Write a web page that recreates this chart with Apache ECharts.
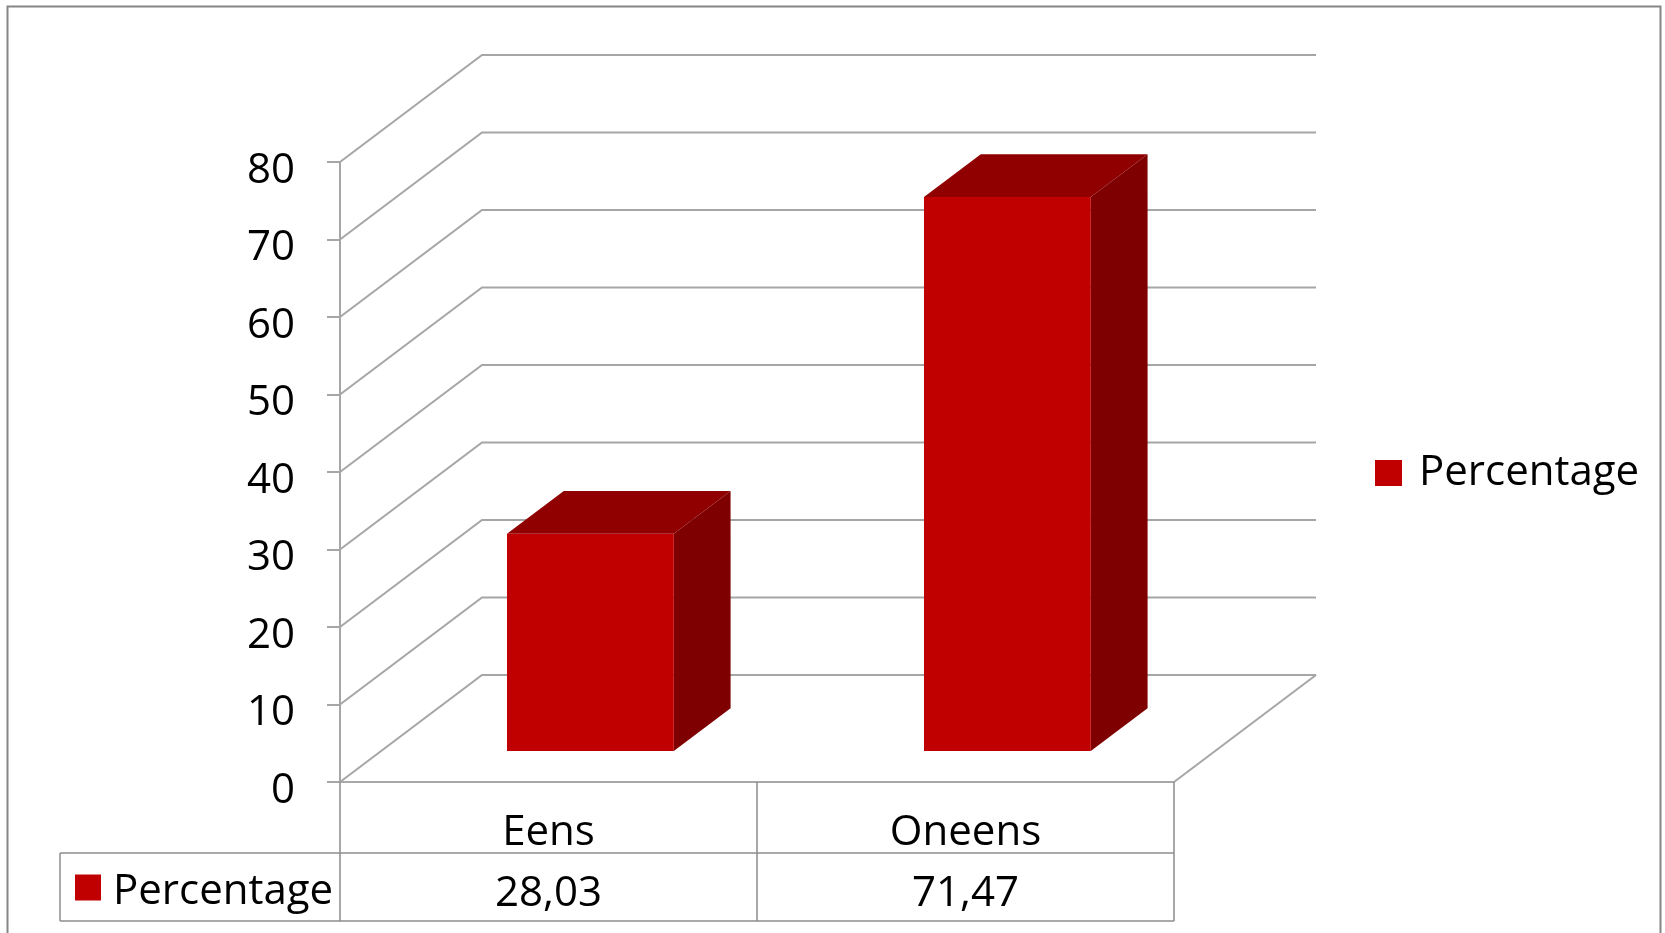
<!DOCTYPE html>
<html><head><meta charset="utf-8">
<script src="https://cdn.jsdelivr.net/npm/echarts@6/dist/echarts.min.js"></script>
<style>html,body{margin:0;padding:0;background:#fff;} #c{width:1665px;height:933px;}</style>
</head><body><div id="c"></div>
<script>
const categories = ['Eens', 'Oneens'];
const seriesName = 'Percentage';
const percentages = [28.03, 71.47];
const yTicks = [0, 10, 20, 30, 40, 50, 60, 70, 80];

const FONT = '"Open Sans"';
const FS = 42;
const DX = 142, DY = -107;
const RED = '#C00000', TOPC = '#900000', SIDE = '#7F0000';
const GRID_COLOR = '#A6A6A6';
const TABLE_COLOR = '#8C8C8C';

function fmt(v) { return v.toFixed(2).replace('.', ','); }

const chart = echarts.init(document.getElementById('c'), null, { renderer: 'canvas' });
const option = {
  backgroundColor: '#fff',
  animation: false,
  graphic: [{
    type: 'rect', silent: true, z: 0,
    shape: { x: 7.5, y: 6.5, width: 1653, height: 960 },
    style: { fill: null, stroke: '#868686', lineWidth: 2 }
  }],
  grid: { left: 340, right: 491, top: 162, bottom: 151, containLabel: false },
  xAxis: {
    type: 'category', data: categories,
    axisLine: { show: true, lineStyle: { color: TABLE_COLOR, width: 1.5 } },
    axisTick: { show: true, length: 139, lineStyle: { color: TABLE_COLOR, width: 1.5 } },
    axisLabel: { fontFamily: FONT, fontSize: FS, color: '#000', margin: 51, verticalAlign: 'middle' },
    splitLine: { show: false }
  },
  yAxis: {
    type: 'value', min: 0, max: 80, interval: 10,
    axisLine: { show: true, lineStyle: { color: GRID_COLOR, width: 2 } },
    axisTick: { show: true, length: 13, lineStyle: { color: GRID_COLOR, width: 2 } },
    axisLabel: { fontFamily: FONT, fontSize: FS, color: '#000', margin: 45, verticalAlign: 'top', lineHeight: 18 },
    splitLine: { show: false }
  },
  legend: {
    data: [seriesName], left: 1375, top: 452, padding: 0, icon: 'rect', itemWidth: 27, itemHeight: 26,
    selectedMode: false,
    textStyle: { fontFamily: FONT, fontSize: FS, color: '#000', padding: [15, 0, 0, 12] }
  },
  series: [
    {
      type: 'custom', name: 'walls', z: 1, silent: true,
      data: yTicks.map(v => [0, v]),
      renderItem(params, api) {
        const v = api.value(1);
        const cs = params.coordSys;
        const y = api.coord([0, v])[1];
        const x0 = cs.x, x1 = cs.x + cs.width;
        const children = [{
          type: 'polyline',
          shape: { points: [[x0, y], [x0 + DX, y + DY], [x1 + DX, y + DY]] },
          style: { stroke: GRID_COLOR, lineWidth: 2, fill: null }
        }];
        if (v === 0) {
          children.push({
            type: 'line', shape: { x1: x1, y1: y, x2: x1 + DX, y2: y + DY },
            style: { stroke: GRID_COLOR, lineWidth: 2 }
          });
        }
        return { type: 'group', children };
      }
    },
    {
      type: 'custom', name: seriesName, z: 3,
      itemStyle: { color: RED },
      data: percentages.map((v, i) => [i, v]),
      renderItem(params, api) {
        const i = api.value(0), v = api.value(1);
        const top = api.coord([i, v]), base = api.coord([i, 0]);
        const bw = api.size([1, 0])[0] * 0.4;
        const fx = 0.295 * DX, fy = 0.29 * DY;
        const ddx = 0.4 * DX, ddy = 0.4 * DY;
        const xl = base[0] - bw / 2 + fx, xr = xl + bw;
        const yt = top[1] + fy, yb = base[1] + fy;
        return {
          type: 'group', children: [
            { type: 'polygon', shape: { points: [[xl, yt], [xr, yt], [xr + ddx, yt + ddy], [xl + ddx, yt + ddy]] }, style: { fill: TOPC } },
            { type: 'polygon', shape: { points: [[xr, yt], [xr + ddx, yt + ddy], [xr + ddx, yb + ddy], [xr, yb]] }, style: { fill: SIDE } },
            { type: 'rect', shape: { x: xl, y: yt, width: bw, height: yb - yt }, style: { fill: RED } }
          ]
        };
      }
    },
    {
      type: 'custom', name: 'table', z: 2, silent: true,
      data: percentages.map((v, i) => [i, v]),
      renderItem(params, api) {
        const i = api.value(0), v = api.value(1);
        const cs = params.coordSys;
        const base = api.coord([i, 0]);
        const y0 = cs.y + cs.height;
        const r1 = y0 + 71, r2 = r1 + 68;
        const mid = (r1 + r2) / 2;
        const children = [{
          type: 'text',
          style: { text: fmt(v), x: base[0], y: mid + 7, align: 'center', verticalAlign: 'middle', fontSize: FS, fontFamily: FONT, fill: '#000' }
        }];
        if (i === 0) {
          const xl = 60, xr = cs.x + cs.width;
          const ls = { stroke: TABLE_COLOR, lineWidth: 1.5 };
          children.push(
            { type: 'line', shape: { x1: xl, y1: r1, x2: xr, y2: r1 }, style: ls },
            { type: 'line', shape: { x1: xl, y1: r2, x2: xr, y2: r2 }, style: ls },
            { type: 'line', shape: { x1: xl, y1: r1, x2: xl, y2: r2 }, style: ls },
            { type: 'rect', shape: { x: 75, y: mid + 0.5 - 13, width: 26, height: 26 }, style: { fill: RED } },
            { type: 'text', style: { text: seriesName, x: 113, y: mid + 5.5, align: 'left', verticalAlign: 'middle', fontSize: FS, fontFamily: FONT, fill: '#000' } }
          );
        }
        return { type: 'group', children };
      }
    }
  ]
};
chart.setOption(option);
</script>
</body></html>
